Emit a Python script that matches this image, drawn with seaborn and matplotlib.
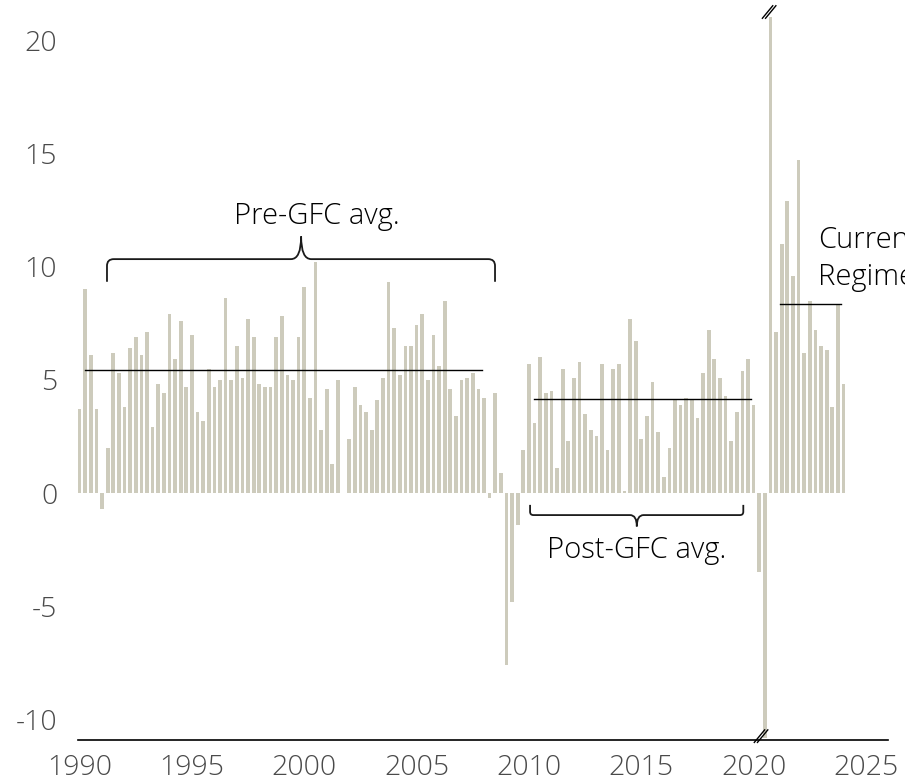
import numpy as np
import pandas as pd
import matplotlib
matplotlib.use("Agg")
import matplotlib.pyplot as plt
from matplotlib.path import Path
from matplotlib.patches import PathPatch
import seaborn as sns

# ---- data (quarterly, 1990Q1 .. 2024Q1), % growth ----
quarters = [f"{1990 + i // 4}Q{i % 4 + 1}" for i in range(137)]
values = [
    3.7, 9.0, 6.1, 3.7, -0.7, 2.0, 6.2, 5.3, 3.8, 6.4, 6.9, 6.1,
    7.1, 2.9, 4.8, 4.4, 7.9, 5.9, 7.6, 4.7, 7.0, 3.6, 3.2, 5.5,
    4.7, 5.0, 8.6, 5.0, 6.5, 5.1, 7.7, 6.9, 4.8, 4.7, 4.7, 6.9,
    7.8, 5.2, 5.0, 6.9, 9.1, 4.2, 10.2, 2.8, 4.6, 1.3, 5.0, 0.0,
    2.4, 4.7, 3.9, 3.6, 2.8, 4.1, 5.1, 9.3, 7.3, 5.2, 6.5, 6.5,
    7.4, 7.9, 5.0, 7.0, 5.6, 8.5, 4.6, 3.4, 5.0, 5.1, 5.3, 4.6,
    4.2, -0.2, 4.4, 0.9, -7.6, -4.8, -1.4, 1.9, 5.7, 3.1, 6.0, 4.4,
    4.5, 1.1, 5.5, 2.3, 5.1, 5.8, 3.5, 2.8, 2.5, 5.7, 1.9, 5.5,
    5.7, 0.1, 7.7, 6.7, 2.4, 3.4, 4.9, 2.7, 0.7, 2.0, 4.1, 3.9,
    4.2, 4.1, 3.3, 5.3, 7.2, 5.9, 5.1, 4.3, 2.3, 3.6, 5.4, 5.9,
    3.9, -3.5, -10.8, 21.0, 7.1, 11.0, 12.9, 9.6, 14.7, 6.2, 8.5, 7.2,
    6.5, 6.3, 3.8, 8.3, 4.8,
]
x_ticks = [1990, 1995, 2000, 2005, 2010, 2015, 2020, 2025]
x_ticklabels = ["1990", "1995", "2000", "2005", "2010", "2015", "2020", "2025"]
y_ticks = [20, 15, 10, 5, 0, -5, -10]
y_ticklabels = ["20", "15", "10", "5", "0", "-5", "-10"]

pre_gfc_avg = 5.43
post_gfc_avg = 4.15
current_avg = 8.34

df = pd.DataFrame({
    "quarter": quarters,
    "t": [int(q[:4]) + (int(q[-1]) - 1) / 4 for q in quarters],
    "value": values,
})

BAR = "#cdcbbc"
FONT = ["Open Sans", "DejaVu Sans"]
plt.rcParams["font.family"] = FONT
plt.rcParams["font.weight"] = "light"

fig = plt.figure(figsize=(9.05, 7.83), dpi=100)
ax = fig.add_axes([78 / 905, 1 - 740 / 783, 810 / 905, 740 / 783])

sns.barplot(data=df, x="t", y="value", native_scale=True, width=0.66,
            color=BAR, saturation=1, edgecolor="none", linewidth=0, ax=ax)

ax.set_xlim(1989.93, 2025.98)
ax.set_ylim(-10.9, 21.77)
ax.set_xlabel("")
ax.set_ylabel("")
for s in ["top", "right", "left"]:
    ax.spines[s].set_visible(False)
ax.spines["bottom"].set_color("black")
ax.spines["bottom"].set_linewidth(1.2)
ax.set_xticks(x_ticks)
ax.set_xticklabels(x_ticklabels)
ax.set_yticks(y_ticks)
ax.set_yticklabels(y_ticklabels)
ax.tick_params(axis="both", length=0, labelsize=20.5, labelcolor="#4a4a4a")
ax.tick_params(axis="y", pad=15)
ax.tick_params(axis="x", pad=10)

# average lines
ax.plot([1990.24, 2007.91], [pre_gfc_avg] * 2, color="black", lw=1.0)
ax.plot([2010.22, 2019.88], [post_gfc_avg] * 2, color="black", lw=1.0)
ax.plot([2021.17, 2023.89], [current_avg] * 2, color="black", lw=1.0)


def brace(x0, x1, xm, yl, dend, dtip, r, w):
    s = np.sign(dend)
    verts = [
        (x0, yl + dend), (x0, yl + s * r), (x0, yl), (x0 + r, yl),
        (xm - w, yl), (xm, yl), (xm, yl + dtip),
        (xm, yl), (xm + w, yl),
        (x1 - r, yl), (x1, yl), (x1, yl + s * r), (x1, yl + dend),
    ]
    codes = [Path.MOVETO, Path.LINETO, Path.CURVE3, Path.CURVE3,
             Path.LINETO, Path.CURVE3, Path.CURVE3,
             Path.CURVE3, Path.CURVE3,
             Path.LINETO, Path.CURVE3, Path.CURVE3, Path.LINETO]
    ax.add_patch(PathPatch(Path(verts, codes), fill=False, ec="#1a1a1a",
                           lw=1.3, clip_on=False))


brace(1991.22, 2008.49, 1999.86, 10.33, -1.0, 1.0, 0.3, 0.45)
brace(2010.05, 2019.54, 2014.80, -0.97, 0.45, -0.5, 0.15, 0.3)

ax.text(2000.57, 11.88, "Pre-GFC avg.", ha="center", va="baseline",
        fontsize=21, color="black")
ax.text(2014.79, -2.87, "Post-GFC avg.", ha="center", va="baseline",
        fontsize=21, color="black")
ax.text(2022.87, 10.82, "Current", ha="left", va="baseline",
        fontsize=21, color="black", clip_on=False)
ax.text(2022.87, 9.18, "Regime", ha="left", va="baseline",
        fontsize=21, color="black", clip_on=False)

# axis break marks
def breakmark(xc, yc):
    for dx in (-0.07, 0.07):
        ax.plot([xc + dx - 0.25, xc + dx + 0.25], [yc - 0.3, yc + 0.3],
                color="black", lw=1.0, clip_on=False, solid_capstyle="butt")

breakmark(2020.69, 21.24)
breakmark(2020.33, -10.73)

fig.savefig("out.png", dpi=100)
